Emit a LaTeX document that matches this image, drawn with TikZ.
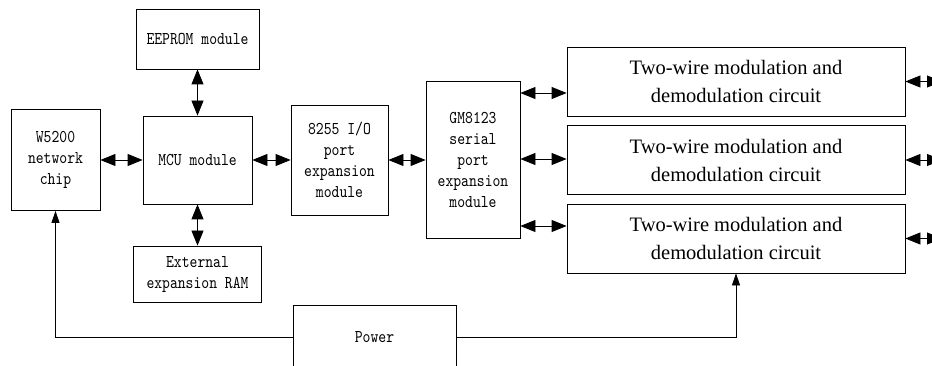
\documentclass[tikz,border=0pt]{standalone}
\usepackage{fontspec}
\setmainfont{Liberation Serif}
\newfontfamily\blockfont[FakeStretch=0.83]{lmmono10-regular.otf}
\usetikzlibrary{arrows.meta}

\begin{document}
\begin{tikzpicture}[x=1pt,y=-1pt,
  mono/.style={draw, line width=0.8pt, inner sep=0pt, align=center,
    font=\blockfont\fontsize{18}{21}\selectfont},
  serifbox/.style={draw, line width=0.8pt, inner sep=0pt, align=center,
    minimum width=338pt, minimum height=69pt,
    font=\fontsize{20.5}{28}\selectfont},
  biarrow/.style={line width=0.8pt,
    {Triangle[length=15pt,width=12pt]}-{Triangle[length=15pt,width=12pt]}},
  feed/.style={line width=0.8pt, -{Triangle[length=12pt,width=8pt]}}]
\useasboundingbox (0,0) rectangle (932,366);
\clip (0,0) rectangle (932,366);

% processor side
\node[mono, minimum width=123pt, minimum height=60pt] (eeprom) at (197.5,39) {EEPROM module};
\node[mono, minimum width=109pt, minimum height=88pt] (mcu) at (197.5,160) {MCU module};
\node[mono, minimum width=89pt, minimum height=101pt] (w5200) at (55.5,160) {W5200\\network\\chip};
\node[mono, minimum width=128pt, minimum height=56pt] (ram) at (197.5,274) {External\\expansion RAM};
\node[mono, minimum width=97pt, minimum height=110pt] (io) at (339.5,160) {8255 I/O\\port\\expansion\\module};
\node[mono, minimum width=94pt, minimum height=157pt] (gm) at (473,160) {GM8123\\serial\\port\\expansion\\module};

% line circuits
\node[serifbox] (tw1) at (736,81.5) {Two-wire modulation and\\demodulation circuit};
\node[serifbox] (tw2) at (736,160) {Two-wire modulation and\\demodulation circuit};
\node[serifbox] (tw3) at (736,238.5) {Two-wire modulation and\\demodulation circuit};

% supply
\node[mono, minimum width=163pt, minimum height=64pt] (power) at (374.5,337) {Power};

% buses
\draw[biarrow] (w5200) -- (mcu);
\draw[biarrow] (eeprom) -- (mcu);
\draw[biarrow] (mcu) -- (ram);
\draw[biarrow] (mcu) -- (io);
\draw[biarrow] (io) -- (gm);
\draw[biarrow] ([yshift=67pt]gm.east) -- ([yshift=67pt]gm.east -| tw1.west);
\draw[biarrow] ([yshift=1pt]gm.east) -- ([yshift=1pt]gm.east -| tw2.west);
\draw[biarrow] ([yshift=-66pt]gm.east) -- ([yshift=-66pt]gm.east -| tw3.west);

% outgoing lines
\coordinate (o1) at (942,81.5);
\coordinate (o2) at (942,160);
\coordinate (o3) at (942,238.5);
\draw[biarrow] (tw1.east) -- (o1);
\draw[biarrow] (tw2.east) -- (o2);
\draw[biarrow] (tw3.east) -- (o3);

% power feeds
\draw[feed] (power.west) -| (w5200.south);
\draw[feed] (power.east) -| (tw3.south);
\end{tikzpicture}
\end{document}
